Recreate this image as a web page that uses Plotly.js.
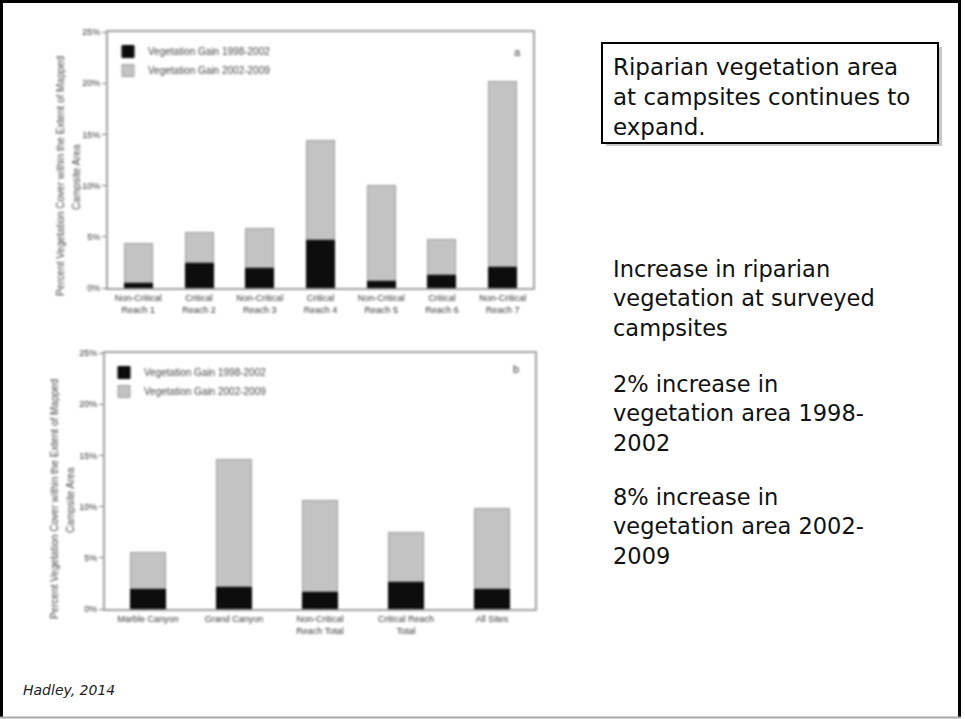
<!DOCTYPE html>
<html>
<head>
<meta charset="utf-8">
<script src="https://cdn.plot.ly/plotly-3.0.1.min.js"></script>
<style>
  html, body { margin: 0; padding: 0; background: #fff; width: 965px; height: 719px; overflow: hidden; }
  #charts, #slide { position: absolute; left: 0; top: 0; width: 965px; height: 719px; }
  #charts { filter: blur(1px); }
  #slide { pointer-events: none; }
</style>
</head>
<body>
<div id="charts"></div>
<div id="slide"></div>
<script>
// Panel a: vegetation gain by river reach (% of mapped campsite area)
const reachLabels = [
  'Non-Critical<br>Reach 1', 'Critical<br>Reach 2', 'Non-Critical<br>Reach 3',
  'Critical<br>Reach 4', 'Non-Critical<br>Reach 5', 'Critical<br>Reach 6',
  'Non-Critical<br>Reach 7'
];
const reachGain9802 = [0.5, 2.5, 2.0, 4.7, 0.7, 1.3, 2.1];
const reachGain0209 = [3.8, 2.9, 3.8, 9.7, 9.3, 3.4, 18.1];

// Panel b: vegetation gain by site group
const groupLabels = [
  'Marble Canyon', 'Grand Canyon', 'Non-Critical<br>Reach Total',
  'Critical Reach<br>Total', 'All Sites'
];
const groupGain9802 = [2.0, 2.2, 1.7, 2.7, 2.0];
const groupGain0209 = [3.5, 12.4, 8.9, 4.8, 7.8];

const yTicks = [0, 5, 10, 15, 20, 25];
const yTickText = yTicks.map(v => v + '%');
const seriesNames = ['Vegetation Gain 1998-2002', 'Vegetation Gain 2002-2009'];

const W = 965, H = 719;
const px = v => v / W;
const py = v => 1 - v / H;

const darkFill = '#0d0d0d';
const greyFill = '#c3c3c3';

const traces = [
  { type: 'bar', x: reachLabels, y: reachGain9802, name: seriesNames[0], xaxis: 'x', yaxis: 'y',
    marker: { color: darkFill, line: { color: '#000', width: 1 } }, legend: 'legend', width: 0.46 },
  { type: 'bar', x: reachLabels, y: reachGain0209, name: seriesNames[1], xaxis: 'x', yaxis: 'y',
    marker: { color: greyFill, line: { color: '#9a9a9a', width: 1 } }, legend: 'legend', width: 0.46 },
  { type: 'bar', x: groupLabels, y: groupGain9802, name: seriesNames[0], xaxis: 'x2', yaxis: 'y2',
    marker: { color: darkFill, line: { color: '#000', width: 1 } }, legend: 'legend2', width: 0.4 },
  { type: 'bar', x: groupLabels, y: groupGain0209, name: seriesNames[1], xaxis: 'x2', yaxis: 'y2',
    marker: { color: greyFill, line: { color: '#9a9a9a', width: 1 } }, legend: 'legend2', width: 0.4 }
];

const tickFont = { family: 'Liberation Sans, Arial, sans-serif', size: 9, color: '#333' };

function yAxis(domain, anchor) {
  return {
    domain: domain, anchor: anchor, range: [0, 25], tickvals: yTicks, ticktext: yTickText,
    showgrid: false, zeroline: false, showline: true, mirror: true,
    linecolor: '#a0a0a0', linewidth: 2, ticks: 'outside', ticklen: 4, tickcolor: '#777',
    tickfont: tickFont, fixedrange: true
  };
}
function xAxis(domain, anchor) {
  return {
    domain: domain, anchor: anchor, type: 'category', showgrid: false, zeroline: false,
    showline: true, mirror: true, linecolor: '#a0a0a0', linewidth: 2, ticks: '',
    tickfont: tickFont, fixedrange: true
  };
}

const legendStyle = {
  bgcolor: 'rgba(0,0,0,0)', borderwidth: 0, traceorder: 'normal', orientation: 'v',
  font: { family: 'Liberation Sans, Arial, sans-serif', size: 10, color: '#444' },
  xanchor: 'left', yanchor: 'top', itemwidth: 30
};

const titleFont = { family: 'Liberation Sans, Arial, sans-serif', size: 10, color: '#444' };
const rotated = { xref: 'paper', yref: 'paper', textangle: -90, showarrow: false,
  xanchor: 'center', yanchor: 'middle', font: titleFont };
const panelFont = { family: 'Liberation Sans, Arial, sans-serif', size: 11, color: '#333' };

const layout = {
  width: W, height: H, margin: { l: 0, r: 0, t: 0, b: 0 },
  paper_bgcolor: 'rgba(0,0,0,0)', plot_bgcolor: '#fff',
  barmode: 'stack', showlegend: true,
  xaxis: xAxis([px(108), px(533)], 'y'),
  yaxis: yAxis([py(288), py(32)], 'x'),
  xaxis2: xAxis([px(105), px(535)], 'y2'),
  yaxis2: yAxis([py(609), py(353)], 'x2'),
  legend: Object.assign({}, legendStyle, { x: px(108), y: py(37) }),
  legend2: Object.assign({}, legendStyle, { x: px(104), y: py(358) }),
  annotations: [
    Object.assign({}, rotated, { x: px(61), y: py(176), text: 'Percent Vegetation Cover within the Extent of Mapped' }),
    Object.assign({}, rotated, { x: px(77), y: py(177), text: 'Campsite Area' }),
    Object.assign({}, rotated, { x: px(54), y: py(499), text: 'Percent Vegetation Cover within the Extent of Mapped' }),
    Object.assign({}, rotated, { x: px(70), y: py(500), text: 'Campsite Area' }),
    { xref: 'paper', yref: 'paper', x: px(517), y: py(52), text: 'a', showarrow: false,
      xanchor: 'center', yanchor: 'middle', font: panelFont },
    { xref: 'paper', yref: 'paper', x: px(516), y: py(369), text: 'b', showarrow: false,
      xanchor: 'center', yanchor: 'middle', font: panelFont }
  ]
};

Plotly.newPlot('charts', traces, layout, { staticPlot: true, displayModeBar: false });

// Slide text, callout box and frame
const slideFont = 'DejaVu Sans, Verdana, sans-serif';
const slideLayout = {
  width: W, height: H, margin: { l: 0, r: 0, t: 0, b: 0 },
  paper_bgcolor: 'rgba(0,0,0,0)', plot_bgcolor: 'rgba(0,0,0,0)', showlegend: false,
  xaxis: { range: [0, W], visible: false, fixedrange: true },
  yaxis: { range: [H, 0], visible: false, fixedrange: true },
  shapes: [
    // callout shadow and box
    { type: 'rect', xref: 'x', yref: 'y', x0: 606, y0: 47, x1: 942, y1: 146,
      line: { width: 0 }, fillcolor: 'rgba(0,0,0,0.22)', layer: 'below' },
    { type: 'rect', xref: 'x', yref: 'y', x0: 602, y0: 43, x1: 938, y1: 143,
      line: { color: '#000', width: 2 }, fillcolor: '#fff', layer: 'below' },
    // slide frame
    { type: 'line', xref: 'x', yref: 'y', x0: 0, y0: 1.5, x1: 961, y1: 1.5, line: { color: '#000', width: 3 } },
    { type: 'line', xref: 'x', yref: 'y', x0: 1.5, y0: 0, x1: 1.5, y1: 718, line: { color: '#000', width: 3 } },
    { type: 'line', xref: 'x', yref: 'y', x0: 959.5, y0: 0, x1: 959.5, y1: 718, line: { color: '#000', width: 3 } },
    { type: 'line', xref: 'x', yref: 'y', x0: 0, y0: 717.5, x1: 961, y1: 717.5, line: { color: '#a8a8a8', width: 2 } }
  ],
  annotations: [
    { xref: 'x', yref: 'y', x: 611, y: 97, xanchor: 'left', yanchor: 'middle', align: 'left', showarrow: false,
      text: 'Riparian vegetation area<br>at campsites continues to<br>expand.',
      font: { family: slideFont, size: 23, color: '#111' } },
    { xref: 'x', yref: 'y', x: 611, y: 298, xanchor: 'left', yanchor: 'middle', align: 'left', showarrow: false,
      text: 'Increase in riparian<br>vegetation at surveyed<br>campsites',
      font: { family: slideFont, size: 22.5, color: '#111' } },
    { xref: 'x', yref: 'y', x: 611, y: 413, xanchor: 'left', yanchor: 'middle', align: 'left', showarrow: false,
      text: '2% increase in<br>vegetation area 1998-<br>2002',
      font: { family: slideFont, size: 22.5, color: '#111' } },
    { xref: 'x', yref: 'y', x: 611, y: 526, xanchor: 'left', yanchor: 'middle', align: 'left', showarrow: false,
      text: '8% increase in<br>vegetation area 2002-<br>2009',
      font: { family: slideFont, size: 22.5, color: '#111' } },
    { xref: 'x', yref: 'y', x: 21, y: 690, xanchor: 'left', yanchor: 'middle', align: 'left', showarrow: false,
      text: '<i>Hadley, 2014</i>',
      font: { family: slideFont, size: 14, color: '#222' } }
  ]
};

Plotly.newPlot('slide', [], slideLayout, { staticPlot: true, displayModeBar: false });
</script>
</body>
</html>
